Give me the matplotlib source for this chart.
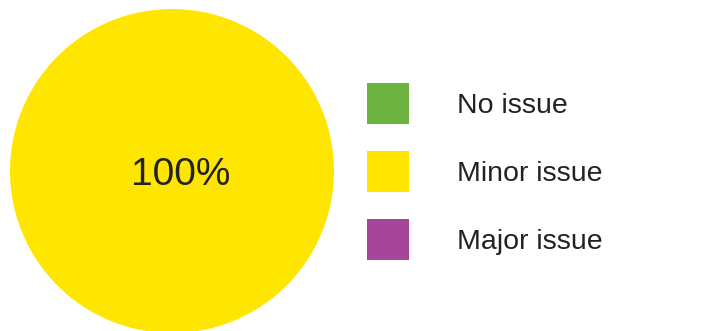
import matplotlib.pyplot as plt

# data
labels = ["No issue", "Minor issue", "Major issue"]
shares = [0, 100, 0]
colours = ["#6db33f", "#ffe600", "#a5469b"]

plt.rcParams.update({"font.family": ["Liberation Sans", "DejaVu Sans"]})

W, H = 713, 331
fig = plt.figure(figsize=(W / 100, H / 100), dpi=100)

# pie axes: circle centre ~(172, 171) px, radius ~162 px
ax = fig.add_axes([10 / W, (H - 333) / H, 324 / W, 324 / H])
wedges, _, autotexts = ax.pie(
    shares, colors=colours, startangle=156, counterclock=True,
    autopct=lambda p: f"{p:.0f}%" if p > 0 else "",
    pctdistance=0.061,
    textprops={"fontsize": 28, "color": "#222222"},
    wedgeprops={"linewidth": 0},
)
ax.set_xlim(-1, 1)
ax.set_ylim(-1, 1)
ax.set_aspect("equal")
ax.axis("off")

# square legend keys, ~42 px each, rows 68 px apart
fs = 20.5
fig.legend(
    wedges, labels, loc="upper left",
    bbox_to_anchor=(367 / W, 1 - 83 / H),
    frameon=False, fontsize=fs, labelcolor="#222222",
    handlelength=30.24 / fs, handleheight=1.838, handletextpad=1.68,
    labelspacing=0.95, borderpad=0, borderaxespad=0,
)

fig.savefig("out.png", dpi=100)
